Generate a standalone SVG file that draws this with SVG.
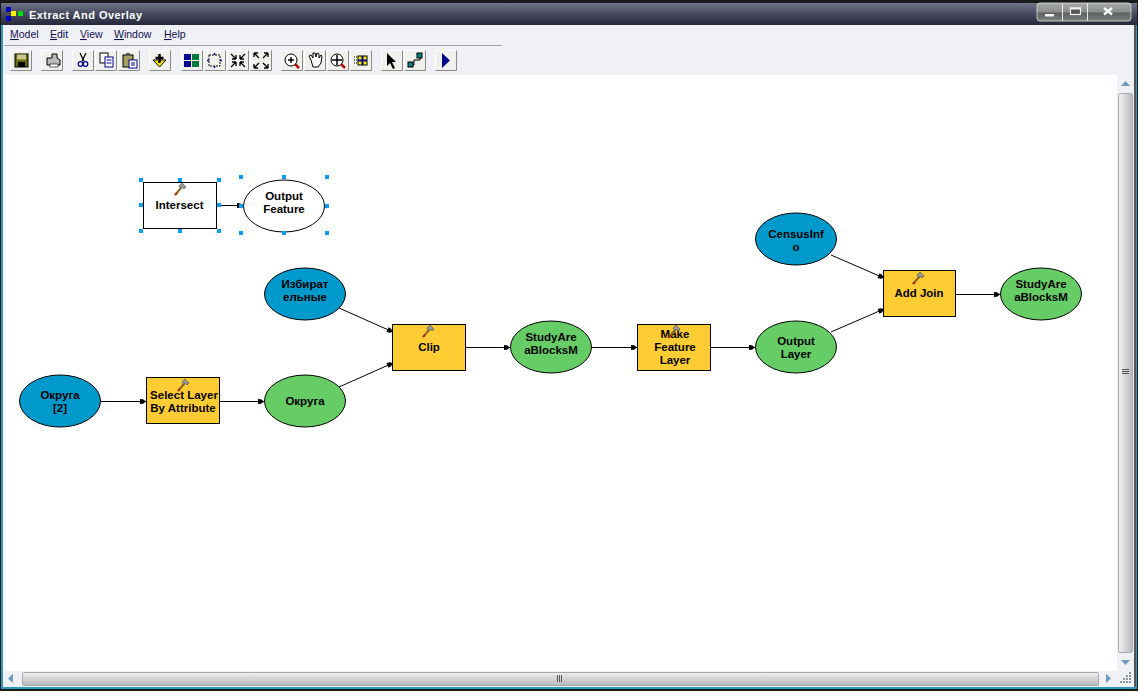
<svg xmlns="http://www.w3.org/2000/svg" width="1138" height="691" viewBox="0 0 1138 691">
<style>
.n{font:bold 11.5px "Liberation Sans",Arial,sans-serif;fill:#000;text-anchor:middle}
.m{font:10.5px "Liberation Sans",Arial,sans-serif;fill:#101050}
.u{text-decoration:underline}
.box{stroke:#000;stroke-width:1;fill:#ffcc33}
.el{stroke:#000;stroke-width:1}
.blue{fill:#0099cc}.green{fill:#66cc66}.white{fill:#fff}
.c{stroke:#000;stroke-width:1;fill:none;marker-end:url(#a)}
.h{fill:#0a9cf0}
.btn{fill:#f0f0ec}
.bs{fill:none;stroke:#8a8a86;stroke-width:1}
.bh{fill:none;stroke:#fff;stroke-width:1}
.arr{fill:#6a9abd}
.grip{fill:#8a96a0}
</style>
<defs>
<marker id="a" markerUnits="userSpaceOnUse" markerWidth="8" markerHeight="7" refX="7" refY="3.5" orient="auto"><path d="M1,1L4,1.300L7,3.500L4,5.700L1,6z" fill="#000"/></marker>
<linearGradient id="tb" x1="0" y1="0" x2="0" y2="1"><stop offset="0" stop-color="#72768a"/><stop offset="0.45" stop-color="#4a4d62"/><stop offset="1" stop-color="#25273a"/></linearGradient>
<linearGradient id="wb" x1="0" y1="0" x2="0" y2="1"><stop offset="0" stop-color="#a8aca8"/><stop offset="0.5" stop-color="#8a8e8c"/><stop offset="0.55" stop-color="#5c605e"/><stop offset="1" stop-color="#7c807e"/></linearGradient>
<linearGradient id="vt" x1="0" y1="0" x2="1" y2="0"><stop offset="0" stop-color="#f4f4f4"/><stop offset="1" stop-color="#b8b8b8"/></linearGradient>
<linearGradient id="ht" x1="0" y1="0" x2="0" y2="1"><stop offset="0" stop-color="#efefef"/><stop offset="1" stop-color="#b8b8b8"/></linearGradient>
<g id="hammer"><path d="M-5,6L1,-1" stroke="#8a6a20" stroke-width="2" fill="none"/><path d="M-5,6L-3,4" stroke="#b03010" stroke-width="2" fill="none"/><path d="M-1,-3L2,-6L6,-2L4,0L2,-2L1,0z" fill="#9a9a9a" stroke="#444" stroke-width="0.6"/></g>
<g id="b"><rect class="btn" x="0" y="0" width="22" height="21"/><path class="bh" d="M.5,20V.5H21"/><path class="bs" d="M.5,20.5H21.5V.5"/></g>
</defs>

<g id="window">
<rect width="1138" height="691" fill="#1a1a1a"/>
<rect x="1" y="3" width="1136" height="686" fill="#2a9ab8"/>
<rect x="3" y="3" width="1131" height="684" fill="#f0f1f7"/>
<rect x="1" y="3" width="1136" height="22" fill="url(#tb)"/>
<rect x="3" y="75" width="1114" height="596" fill="#fff"/>
<rect x="1134" y="25" width="2" height="662" fill="#555"/>
<rect x="6" y="7" width="5" height="5" fill="#0000c0"/><rect x="6" y="16" width="5" height="5" fill="#0000c0"/><rect x="11" y="11" width="5" height="5" fill="#ffee00"/><rect x="18" y="11" width="5" height="5" fill="#00dd00"/>
<text x="29" y="19" font-family="Liberation Sans,Arial,sans-serif" font-weight="bold" font-size="11" fill="#fff" textLength="113">Extract And Overlay</text>
<rect x="1037" y="3" width="94" height="18" rx="3" fill="url(#wb)" stroke="#e0e0e0" stroke-width="0.8"/>
<path d="M1062.5,3V21M1087.5,3V21" stroke="#e8e8e8" stroke-width="1"/>
<rect x="1045" y="14" width="9" height="2.5" fill="#f4f4f4"/>
<rect x="1070.5" y="8" width="10" height="6.5" fill="#555" stroke="#f0f0f0" stroke-width="1.2"/><rect x="1070" y="7.5" width="11" height="2" fill="#f0f0f0"/>
<path d="M1104,8L1112,14.5M1112,8L1104,14.5" stroke="#f4f4f4" stroke-width="2.6"/>
</g>

<g id="menu">
<text class="m" x="10" y="38"><tspan class="u">M</tspan>odel</text>
<text class="m" x="50" y="38"><tspan class="u">E</tspan>dit</text>
<text class="m" x="80" y="38"><tspan class="u">V</tspan>iew</text>
<text class="m" x="114" y="38"><tspan class="u">W</tspan>indow</text>
<text class="m" x="164" y="38"><tspan class="u">H</tspan>elp</text>
<rect x="4" y="45" width="498" height="1" fill="#a4a4a4"/>
</g>

<g id="toolbar">
<use href="#b" x="10" y="50"/><use href="#b" x="41" y="50"/><use href="#b" x="72" y="50"/><use href="#b" x="95" y="50"/><use href="#b" x="118" y="50"/><use href="#b" x="149" y="50"/><use href="#b" x="181" y="50"/><use href="#b" x="204" y="50"/><use href="#b" x="227" y="50"/><use href="#b" x="250" y="50"/><use href="#b" x="281" y="50"/><use href="#b" x="304" y="50"/><use href="#b" x="327" y="50"/><use href="#b" x="350" y="50"/><use href="#b" x="381" y="50"/><use href="#b" x="404" y="50"/><use href="#b" x="435" y="50"/>
<rect x="15" y="54" width="13" height="13" fill="#6b6b10" stroke="#000"/><rect x="17" y="54.5" width="9" height="5" fill="#c8c890"/><rect x="18" y="62" width="7" height="5" fill="#000"/>
<path d="M47,62V58H52V54H57V58L60,60V65H47z" fill="#bbb" stroke="#000"/><rect x="50" y="64" width="8" height="3" fill="#fff" stroke="#000" stroke-width=".6"/>
<path d="M80,53L84,61M86,53L82,61" stroke="#000" stroke-width="1.2"/><circle cx="80.500" cy="64" r="2.300" fill="none" stroke="#00008a" stroke-width="1.200"/><circle cx="85.500" cy="64" r="2.300" fill="none" stroke="#00008a" stroke-width="1.200"/>
<rect x="100" y="53" width="8" height="10" fill="#fff" stroke="#000"/><rect x="105" y="57" width="8" height="10" fill="#fff" stroke="#00008a"/><path d="M106.500,60H111.500M106.500,63H111.500" stroke="#00008a"/>
<rect x="123" y="55" width="10" height="12" fill="#a8a060" stroke="#000"/><rect x="126" y="53" width="4" height="3" fill="#555"/><rect x="129" y="60" width="8" height="8" fill="#fff" stroke="#00008a"/><path d="M131,63H135M131,65H135" stroke="#00008a"/>
<path d="M153,60H166L159.500,67z" fill="#ffee00" stroke="#000"/><path d="M159.500,54V63M155.500,58H163.500" stroke="#000" stroke-width="2.500"/>
<rect x="184" y="54" width="7" height="6" fill="#00008a"/><rect x="192" y="54" width="7" height="6" fill="#007a3a"/><rect x="184" y="61" width="7" height="6" fill="#00008a"/><rect x="192" y="61" width="7" height="6" fill="#007a3a"/>
<rect x="209" y="55" width="11" height="11" fill="none" stroke="#000" stroke-dasharray="2 1"/><path d="M214.500,53V55M214.500,66V68M207,60.500H209M220,60.500H222" stroke="#00008a" stroke-width="1.500"/>
<path d="M231,54L236,59M236,59V55M236,59H232M245,54L240,59M240,59V55M240,59H244M231,67L236,62M236,62V66M236,62H232M245,67L240,62M240,62V66M240,62H244" stroke="#000" stroke-width="1.300" fill="none"/>
<path d="M259,58L254,53M254,53V57M254,53H258M263,58L268,53M268,53V57M268,53H264M259,63L254,68M254,68V64M254,68H258M263,63L268,68M268,68V64M268,68H264" stroke="#000" stroke-width="1.300" fill="none"/>
<circle cx="291" cy="60" r="6" fill="#fff" stroke="#000"/><path d="M288,60H294M291,57V63" stroke="#000" stroke-width="1.500"/><path d="M295,64L299,68" stroke="#b01010" stroke-width="2.500"/>
<path d="M311,60L309,56L311,55L313,58L313,53L315,53L316,57L317,53L319,54L319,58L321,55L322,56L321,63L318,67H313z" fill="#fff" stroke="#000"/>
<circle cx="337" cy="60" r="6" fill="#fff" stroke="#000"/><path d="M332,60H342M337,55V65" stroke="#000" stroke-width="1.500"/><path d="M341,64L345,68" stroke="#b01010" stroke-width="2.500"/>
<rect x="358" y="56" width="9" height="9" fill="#ffee00" stroke="#000"/><path d="M362.500,56V65M358,60.500H367" stroke="#00008a" stroke-width="2"/><path d="M354,57H357M354,60H357M354,63H357" stroke="#000" stroke-dasharray="1 1"/>
<path d="M387,53V66L390,63L393,69L395,68L392,62H396z" fill="#000"/>
<path d="M410,65H414V60H420V57" fill="none" stroke="#000"/><rect x="408" y="62" width="5" height="5" fill="#008080" stroke="#000"/><rect x="417" y="53" width="5" height="5" fill="#008080" stroke="#000"/>
<path d="M442,53L450,60.500L442,68z" fill="#00008a"/>
</g>

<g id="scrollbars">
<rect x="1117" y="75" width="17" height="596" fill="#f0f1f6"/>
<rect x="3" y="671" width="1131" height="16" fill="#f0f1f6"/>
<rect x="1118.500" y="93.500" width="14" height="559" rx="2" fill="url(#vt)" stroke="#a8a8a8"/>
<rect x="22.500" y="672.500" width="1076" height="13" rx="1" fill="url(#ht)" stroke="#a8a8a8"/>
<path class="arr" d="M1121,86L1125.500,81L1130,86z"/>
<path class="arr" d="M1121,660L1125.500,665L1130,660z"/>
<path class="arr" d="M13,674V683L8,678.500z"/>
<path class="arr" d="M1106,674V683L1111,678.500z"/>
<path d="M1122,369.500H1129M1122,371.500H1129M1122,373.500H1129" stroke="#555"/>
<path d="M557.500,675V682M559.500,675V682M561.500,675V682" stroke="#555"/>
<path class="grip" d="M1129,672h2v2h-2zM1126,675h2v2h-2zM1129,675h2v2h-2zM1123,678h2v2h-2zM1126,678h2v2h-2zM1129,678h2v2h-2zM1120,681h2v2h-2zM1123,681h2v2h-2zM1126,681h2v2h-2zM1129,681h2v2h-2z"/>
</g>

<g id="connectors">
<path class="c" d="M217,205.500H243"/>
<path class="c" d="M101,401.500H146"/>
<path class="c" d="M220,401.500H264"/>
<path class="c" d="M339,387L393,363"/>
<path class="c" d="M339,308L393,332"/>
<path class="c" d="M466,347.500H510"/>
<path class="c" d="M592,347.500H637"/>
<path class="c" d="M711,347.500H755"/>
<path class="c" d="M831,332L884,309"/>
<path class="c" d="M831,255L884,278"/>
<path class="c" d="M956,294.500H1000"/>
</g>

<g id="intersect"><rect class="box white" x="143.500" y="182.500" width="73" height="46"/><use href="#hammer" x="180" y="189"/><text class="n" x="179.500" y="209">Intersect</text></g>
<g id="output-feature"><ellipse class="el white" cx="284" cy="206" rx="40.500" ry="26"/><text class="n" x="284" y="200">Output</text><text class="n" x="284" y="213">Feature</text></g>
<g id="selection-handles">
<rect class="h" x="139" y="178" width="4" height="4"/><rect class="h" x="178" y="178" width="4" height="4"/><rect class="h" x="217" y="178" width="4" height="4"/><rect class="h" x="139" y="203" width="4" height="4"/><rect class="h" x="217" y="203" width="4" height="4"/><rect class="h" x="139" y="229" width="4" height="4"/><rect class="h" x="178" y="229" width="4" height="4"/><rect class="h" x="217" y="229" width="4" height="4"/>
<rect class="h" x="239" y="175" width="4" height="4"/><rect class="h" x="282" y="175" width="4" height="4"/><rect class="h" x="325" y="175" width="4" height="4"/><rect class="h" x="239" y="204" width="4" height="4"/><rect class="h" x="325" y="204" width="4" height="4"/><rect class="h" x="239" y="231" width="4" height="4"/><rect class="h" x="282" y="231" width="4" height="4"/><rect class="h" x="325" y="231" width="4" height="4"/>
</g>
<g id="okruga2"><ellipse class="el blue" cx="60" cy="401" rx="40.500" ry="26"/><text class="n" x="60" y="399">Округа</text><text class="n" x="60" y="412">[2]</text></g>
<g id="select-layer"><rect class="box" x="146.500" y="377.500" width="73" height="46"/><use href="#hammer" x="183" y="385"/><text class="n" x="184" y="399">Select Layer</text><text class="n" x="183" y="412">By Attribute</text></g>
<g id="okruga"><ellipse class="el green" cx="305" cy="401" rx="40.500" ry="26"/><text class="n" x="305" y="405">Округа</text></g>
<g id="izbirat"><ellipse class="el blue" cx="305" cy="294" rx="40.500" ry="26"/><text class="n" x="305" y="288">Избират</text><text class="n" x="305" y="301">ельные</text></g>
<g id="clip"><rect class="box" x="392.500" y="324.500" width="73" height="46"/><use href="#hammer" x="428" y="331"/><text class="n" x="429" y="351">Clip</text></g>
<g id="study1"><ellipse class="el green" cx="551" cy="347" rx="40.500" ry="26"/><text class="n" x="551" y="341">StudyAre</text><text class="n" x="551" y="354">aBlocksM</text></g>
<g id="make-feature"><rect class="box" x="637.500" y="324.500" width="73" height="46"/><text class="n" x="675" y="338">Make</text><text class="n" x="675" y="351">Feature</text><text class="n" x="675" y="364">Layer</text><use href="#hammer" x="674" y="331"/></g>
<g id="output-layer"><ellipse class="el green" cx="796" cy="347" rx="40.500" ry="26"/><text class="n" x="796" y="345">Output</text><text class="n" x="796" y="358">Layer</text></g>
<g id="census"><ellipse class="el blue" cx="796" cy="239" rx="40.500" ry="26"/><text class="n" x="796" y="238">CensusInf</text><text class="n" x="796" y="251">o</text></g>
<g id="add-join"><rect class="box" x="883.500" y="270.500" width="72" height="46"/><use href="#hammer" x="918" y="278"/><text class="n" x="919" y="297">Add Join</text></g>
<g id="study2"><ellipse class="el green" cx="1041" cy="294" rx="40.500" ry="26"/><text class="n" x="1041" y="288">StudyAre</text><text class="n" x="1041" y="301">aBlocksM</text></g>
</svg>
